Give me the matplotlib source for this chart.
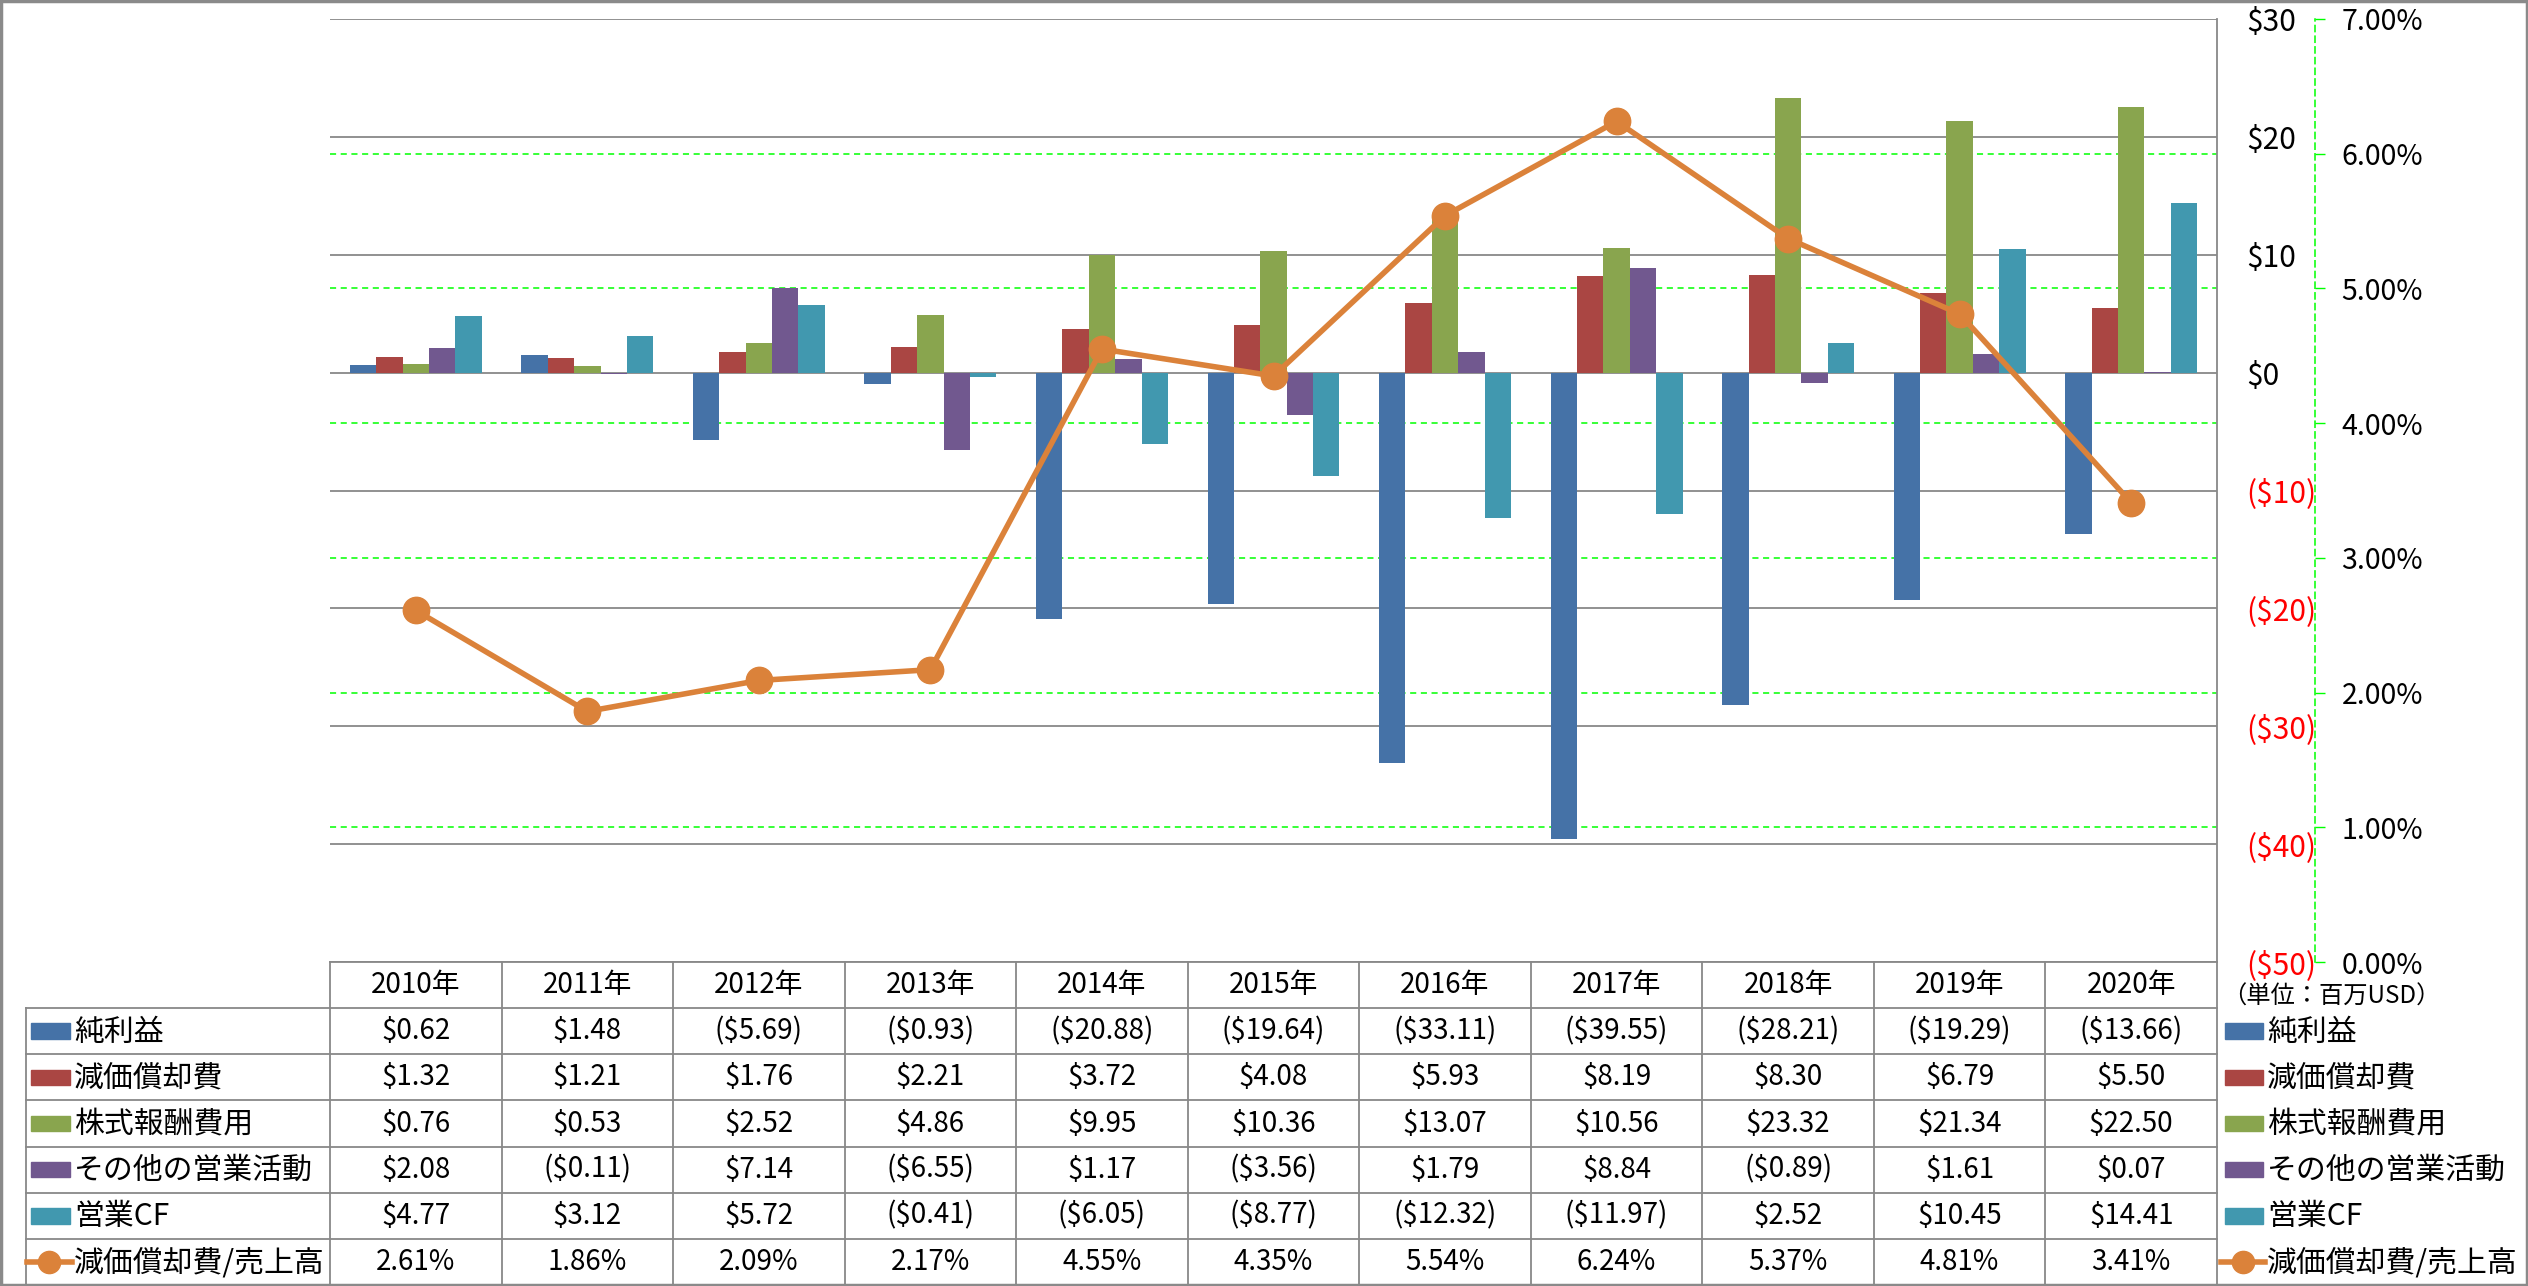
import matplotlib
matplotlib.use("Agg")
import matplotlib.pyplot as plt
from matplotlib.patches import Rectangle
from matplotlib.lines import Line2D

plt.rcParams['font.family'] = ['Noto Sans CJK JP', 'DejaVu Sans']

# ---- data ----
years = ["2010年", "2011年", "2012年", "2013年", "2014年", "2015年",
         "2016年", "2017年", "2018年", "2019年", "2020年"]
series_names = ["純利益", "減価償却費", "株式報酬費用", "その他の営業活動", "営業CF"]
net_income = [0.62, 1.48, -5.69, -0.93, -20.88, -19.64, -33.11, -39.55, -28.21, -19.29, -13.66]
depreciation = [1.32, 1.21, 1.76, 2.21, 3.72, 4.08, 5.93, 8.19, 8.30, 6.79, 5.50]
stock_comp = [0.76, 0.53, 2.52, 4.86, 9.95, 10.36, 13.07, 10.56, 23.32, 21.34, 22.50]
other_ops = [2.08, -0.11, 7.14, -6.55, 1.17, -3.56, 1.79, 8.84, -0.89, 1.61, 0.07]
operating_cf = [4.77, 3.12, 5.72, -0.41, -6.05, -8.77, -12.32, -11.97, 2.52, 10.45, 14.41]
ratio_name = "減価償却費/売上高"
dep_ratio = [2.61, 1.86, 2.09, 2.17, 4.55, 4.35, 5.54, 6.24, 5.37, 4.81, 3.41]
usd_ticks = [-50, -40, -30, -20, -10, 0, 10, 20, 30]
pct_ticks = [0, 1, 2, 3, 4, 5, 6, 7]
unit_note = "（単位：百万USD）"

bar_series = [net_income, depreciation, stock_comp, other_ops, operating_cf]
colors = ["#4572A7", "#AA4643", "#89A54E", "#71588F", "#4198AF"]
line_color = "#DB823A"
grid_gray = "#888888"
green = "#00FF00"

W, H = 2528, 1286
L, R, T, B = 330, 2217, 19, 962      # plot area in pixels
TB = 1285                            # table bottom
fig = plt.figure(figsize=(W / 100, H / 100), dpi=100)

ax = fig.add_axes([L / W, 1 - B / H, (R - L) / W, (B - T) / H])
x = list(range(len(years)))
ax.set_xlim(-0.5, len(years) - 0.5)
ax.set_ylim(usd_ticks[0], usd_ticks[-1])

bw = 1 / 6.5
for i, (vals, c) in enumerate(zip(bar_series, colors)):
    ax.bar([k + (i - 2) * bw for k in x], vals, width=bw, color=c, zorder=2)

# gray grid at $ ticks
for t in usd_ticks:
    ax.axhline(t, color=grid_gray, lw=1.3, zorder=0.6)
# green dashed grid at % ticks (drawn behind bars)
for p in pct_ticks[1:-1]:
    yv = usd_ticks[0] + (p - pct_ticks[0]) / (pct_ticks[-1] - pct_ticks[0]) * (usd_ticks[-1] - usd_ticks[0])
    ax.axhline(yv, color=green, lw=1.1, ls=(0, (4, 3)), zorder=0.5)

ax2 = ax.twinx()

for s in ["top", "left", "bottom"]:
    ax.spines[s].set_visible(False)
ax.spines["right"].set_color(grid_gray)
ax.spines["right"].set_linewidth(1.3)
ax.set_xticks([])
ax.yaxis.tick_right()
ax.set_yticks(usd_ticks)
ax.set_yticklabels([f"${t}" if t >= 0 else f"(${-t})" for t in usd_ticks])
for lab, t in zip(ax.get_yticklabels(), usd_ticks):
    if t < 0:
        lab.set_color("#FF0000")
ax.tick_params(axis="y", length=0, pad=21, labelsize=21.5)

ax2.set_ylim(pct_ticks[0], pct_ticks[-1])
ax2.set_yticks(pct_ticks)
ax2.set_yticklabels([f"{p:.2f}%" for p in pct_ticks])
ax2.plot(x, dep_ratio, color=line_color, lw=4, marker="o", ms=19, zorder=5)
for s in ["top", "left", "bottom"]:
    ax2.spines[s].set_visible(False)
ax2.spines["right"].set_position(("axes", (2315 - L) / (R - L)))
ax2.spines["right"].set_color(green)
ax2.spines["right"].set_linestyle((0, (4, 3)))
ax2.spines["right"].set_linewidth(1.1)
ax2.tick_params(axis="y", direction="out", length=7, width=1, color=green, pad=12, labelsize=20.5)
ax2.set_xticks([])

# ---- data table below the plot ----
tax = fig.add_axes([L / W, 1 - TB / H, (R - L) / W, (TB - B) / H])
nrows = len(series_names) + 2
tax.set_xlim(-0.5, len(years) - 0.5)
tax.set_ylim(nrows, 0)
tax.axis("off")
cw = (R - L) / len(years)


def px(xp):
    return -0.5 + (xp - L) / cw


lab_left = px(26)
for r in range(1, nrows + 1):
    tax.plot([lab_left, len(years) - 0.5], [r, r], color=grid_gray, lw=1.3, clip_on=False)
tax.plot([-0.5, len(years) - 0.5], [0, 0], color=grid_gray, lw=1.3, clip_on=False)
for k in range(len(years) + 1):
    tax.plot([k - 0.5, k - 0.5], [0, nrows], color=grid_gray, lw=1.3, clip_on=False)
tax.plot([lab_left, lab_left], [1, nrows], color=grid_gray, lw=1.3, clip_on=False)

for k, yr in enumerate(years):
    tax.text(k, 0.5, yr, ha="center", va="center", fontsize=20)


def fmt_usd(v):
    return f"${v:.2f}" if v >= 0 else f"(${-v:.2f})"


for r, vals in enumerate(bar_series):
    for k, v in enumerate(vals):
        tax.text(k, r + 1.5, fmt_usd(v), ha="center", va="center", fontsize=20)
for k, v in enumerate(dep_ratio):
    tax.text(k, nrows - 0.5, f"{v:.2f}%", ha="center", va="center", fontsize=20)


def legend_keys(x0, x1, xt):
    for r, (name, c) in enumerate(zip(series_names, colors)):
        yc = r + 1.5
        tax.add_patch(Rectangle((px(x0), yc - 0.17), px(x1) - px(x0), 0.34,
                                color=c, clip_on=False))
        tax.text(px(xt), yc + 0.02, name, ha="left", va="center", fontsize=21.5, clip_on=False)
    yc = nrows - 0.5
    tax.add_line(Line2D([px(x0 - 4), px(x1 + 2)], [yc, yc], color=line_color, lw=4,
                        clip_on=False))
    tax.add_line(Line2D([(px(x0 - 4) + px(x1 + 2)) / 2], [yc], color=line_color, marker="o",
                        ms=16, clip_on=False))
    tax.text(px(xt), yc + 0.02, ratio_name, ha="left", va="center", fontsize=21.5, clip_on=False)


legend_keys(31, 70, 74)
legend_keys(2225, 2263, 2267)
tax.text(px(2331), 0.76, unit_note, ha="center", va="center", fontsize=17.5, clip_on=False)

fig.patches.append(Rectangle((0.0005, 0.0008), 0.999, 0.9985, transform=fig.transFigure,
                             fill=False, ec="#8A8A8A", lw=2.5))

fig.savefig("out.png", dpi=100)
